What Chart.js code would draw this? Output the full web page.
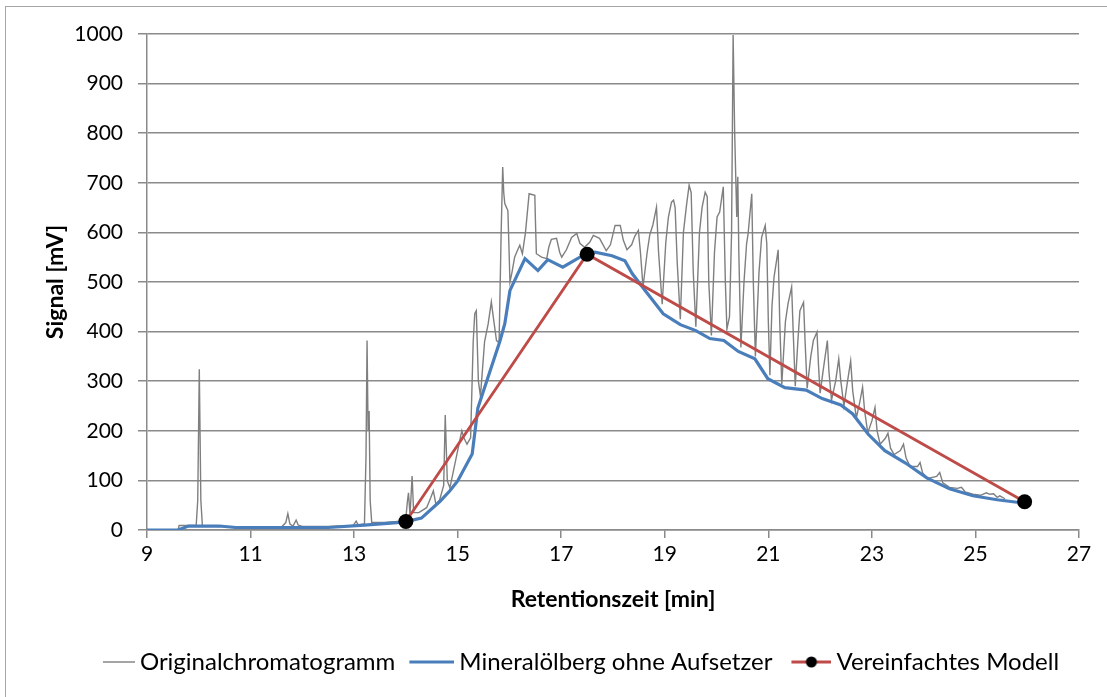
<!DOCTYPE html>
<html>
<head>
<meta charset="utf-8">
<title>Mineralölberg – Retentionszeit</title>
<script src="https://cdn.jsdelivr.net/npm/chart.js@4"></script>
<style>
  html, body { margin: 0; padding: 0; background: #ffffff; }
  #wrap { position: relative; width: 1107px; height: 697px; overflow: hidden; }
  #frame { position: absolute; left: 5px; top: 6px; width: 1200px; height: 800px; border: 1px solid #a6a6a6; }
  canvas { position: absolute; left: 0; top: 0; }
</style>
</head>
<body>
<div id="wrap">
  <div id="frame"></div>
  <canvas id="chart" width="1107" height="697"></canvas>
</div>
<script>
// Original chromatogram: retention time [min] and detector signal [mV]
const rawTime = [
  9.0, 9.6, 9.62, 9.95, 9.98, 10.01, 10.04, 10.07, 10.5, 11.0, 11.6, 11.68, 11.72, 11.76, 11.82, 11.88, 11.92, 12.0, 12.5,
  12.98, 13.04, 13.08, 13.2, 13.23, 13.25, 13.27, 13.29, 13.31, 13.34, 13.6, 13.9, 14.0, 14.03, 14.05, 14.08, 14.12, 14.15,
  14.25, 14.4, 14.48, 14.53, 14.58, 14.65, 14.73, 14.76, 14.8, 14.85, 14.98, 15.04, 15.08, 15.12, 15.18, 15.25, 15.3, 15.33,
  15.36, 15.4, 15.44, 15.52, 15.59, 15.65, 15.7, 15.75, 15.8, 15.84, 15.87, 15.89, 15.91, 15.94, 15.97, 16.01, 16.05, 16.1,
  16.16, 16.2, 16.25, 16.31, 16.38, 16.49, 16.5, 16.52, 16.62, 16.72, 16.76, 16.81, 16.91, 16.97, 17.01, 17.1, 17.2, 17.3,
  17.36, 17.45, 17.55, 17.62, 17.74, 17.87, 17.95, 18.04, 18.14, 18.2,
  18.27, 18.36, 18.42, 18.49, 18.53, 18.58,
  18.66, 18.71, 18.77, 18.84, 18.88, 18.95,
  19.02, 19.07, 19.13, 19.17, 19.2, 19.24, 19.3,
  19.36, 19.42, 19.47, 19.51, 19.55, 19.6,
  19.67, 19.72, 19.78, 19.82, 19.85, 19.9,
  19.96, 20.01, 20.06, 20.13, 20.17, 20.2,
  20.25, 20.29, 20.32, 20.35, 20.37, 20.39, 20.41, 20.43, 20.47,
  20.53, 20.58, 20.61, 20.68, 20.71, 20.75,
  20.82, 20.87, 20.94, 20.97, 21.0, 21.03,
  21.07, 21.11, 21.15, 21.19, 21.22, 21.26,
  21.33, 21.38, 21.45, 21.48, 21.52,
  21.57, 21.61, 21.68, 21.71, 21.75,
  21.82, 21.87, 21.94, 21.97, 22.0,
  22.07, 22.14, 22.17, 22.22,
  22.3, 22.36, 22.4, 22.46,
  22.53, 22.59, 22.63, 22.7,
  22.77, 22.82, 22.86, 22.92,
  23.0, 23.06, 23.1, 23.16,
  23.26, 23.31, 23.36, 23.43,
  23.55, 23.61, 23.66, 23.74,
  23.88, 23.93, 23.98, 24.08,
  24.25, 24.31, 24.37, 24.5,
  24.65, 24.73, 24.8, 24.95, 25.1, 25.21, 25.28, 25.35, 25.42, 25.47, 25.57
];
const rawSignal = [
  0, 0, 9, 9, 60, 324, 60, 8, 7, 6, 6, 15, 33, 12, 8, 20, 10, 7, 7,
  9, 18, 10, 12, 150, 382, 200, 240, 60, 15, 15, 18, 25, 58, 75, 30, 109, 35,
  35, 45, 65, 79, 52, 60, 90, 232, 99, 85, 150, 180, 200, 186, 173, 186, 380, 436,
  442, 300, 270, 380, 416, 460, 420, 382, 378, 600, 732, 680, 658, 651, 644, 500, 520, 550,
  565, 574, 557, 600, 678, 675, 631, 557, 550, 547, 570, 586, 588, 560, 550, 565, 590, 598,
  578, 570, 580, 594, 588, 563, 575, 614, 614, 584,
  565, 575, 592, 604, 560, 490,
  560, 595, 615, 651, 560, 455,
  580, 631, 661, 665, 650, 540, 425,
  600, 655, 695, 680, 520, 410,
  600, 650, 681, 672, 500, 392,
  560, 631, 641, 692, 500, 405,
  430, 600, 998, 800, 715, 631, 712, 560, 368,
  500, 577, 598, 678, 500, 350,
  520, 590, 614, 577, 420, 312,
  450, 510, 537, 565, 420, 294,
  420, 456, 490, 400, 290,
  380, 442, 459, 380, 286,
  350, 382, 399, 330, 276,
  330, 382, 320, 262,
  300, 345, 300, 250,
  300, 341, 280, 226,
  260, 288, 240, 196,
  220, 247, 200, 173,
  185, 195, 165, 152,
  160, 173, 145, 128,
  128, 136, 115, 104,
  108, 116, 95, 86,
  84, 86, 77, 72, 70, 75, 72, 73, 66, 69, 63
];

// Mineral oil hump without the superimposed peaks
const humpTime = [
  9.0, 9.6, 9.8, 10.4, 10.7, 12.5, 13.2, 13.83, 14.0, 14.3, 14.66, 14.85, 15.0, 15.28, 15.39, 15.82, 15.91, 16.01,
  16.3, 16.55, 16.74, 17.03, 17.46, 17.65, 17.98, 18.23, 18.37, 18.62, 18.97, 19.3, 19.6, 19.87, 20.14, 20.42,
  20.74, 20.99, 21.32, 21.73, 22.04, 22.4, 22.63, 22.93, 23.25, 23.65, 24.06, 24.5, 24.95, 25.42, 25.8, 25.92
];
const humpSignal = [
  0, 0, 8, 8, 5, 5, 10, 15, 17, 24, 58, 79, 99, 153, 246, 382, 416, 483,
  547, 523, 545, 530, 556, 560, 553, 543, 517, 483, 436, 414, 402, 386, 382, 360,
  345, 305, 287, 282, 265, 252, 234, 193, 160, 135, 105, 83, 69, 61, 56, 57
];

// Simplified model: start, apex and end of the hump
const modelTime = [14.0, 17.5, 25.95];
const modelSignal = [17, 556, 57];

// Axis ticks
const timeTicks = [9, 11, 13, 15, 17, 19, 21, 23, 25, 27];
const signalTicks = [0, 100, 200, 300, 400, 500, 600, 700, 800, 900, 1000];

const seriesNames = ['Originalchromatogramm', 'Mineralölberg ohne Aufsetzer', 'Vereinfachtes Modell'];

const toPoints = (xs, ys) => xs.map((x, i) => ({ x: x, y: ys[i] }));

const GRID = '#8a8a8a';
const FONT = 'Lato, "Open Sans", sans-serif';
const LEGEND_SIZE = 24;

// Legend symbols (line samples, the model one with a marker)
function legendSymbol(color, width, lineLength, withDot) {
  const w = 60;
  const c = document.createElement('canvas');
  c.width = w; c.height = 16;
  const g = c.getContext('2d');
  g.strokeStyle = color;
  g.lineWidth = width;
  g.beginPath();
  g.moveTo(w - lineLength, 8);
  g.lineTo(w, 8);
  g.stroke();
  if (withDot) {
    g.fillStyle = '#000000';
    g.beginPath();
    g.arc(w - lineLength / 2, 8, 5.5, 0, Math.PI * 2);
    g.fill();
  }
  return c;
}
const symbols = [
  legendSymbol('#7f7f7f', 1.4, 32, false),
  legendSymbol('#4a7ebb', 3.2, 45, false),
  legendSymbol('#be4b48', 3, 40, true)
];

Chart.defaults.font.family = FONT;
Chart.defaults.color = '#000000';

new Chart(document.getElementById('chart'), {
  type: 'scatter',
  data: {
    datasets: [
      {
        label: seriesNames[0],
        data: toPoints(rawTime, rawSignal),
        showLine: true,
        borderColor: '#7f7f7f',
        borderWidth: 1.4,
        pointRadius: 0,
        tension: 0,
        order: 2
      },
      {
        label: seriesNames[1],
        data: toPoints(humpTime, humpSignal),
        showLine: true,
        borderColor: '#4a7ebb',
        borderWidth: 3.2,
        pointRadius: 0,
        tension: 0,
        order: 1
      },
      {
        label: seriesNames[2],
        data: toPoints(modelTime, modelSignal),
        showLine: true,
        borderColor: '#be4b48',
        borderWidth: 2.8,
        pointRadius: 7.5,
        pointBackgroundColor: '#000000',
        pointBorderWidth: 0,
        tension: 0,
        order: 0
      }
    ]
  },
  options: {
    responsive: false,
    animation: false,
    layout: { padding: { left: 44, right: 10, top: 34, bottom: 13 } },
    plugins: {
      tooltip: { enabled: false },
      legend: {
        position: 'bottom',
        labels: {
          usePointStyle: true,
          pointStyleWidth: 46,
          padding: 6,
          font: { size: LEGEND_SIZE, family: FONT },
          color: '#000000',
          generateLabels: (chart) => chart.data.datasets.map((ds, i) => ({
            text: ds.label,
            pointStyle: symbols[i],
            datasetIndex: i,
            hidden: !chart.isDatasetVisible(i),
            lineWidth: 0,
            strokeStyle: 'transparent',
            fillStyle: 'transparent'
          }))
        }
      }
    },
    scales: {
      x: {
        type: 'linear',
        min: timeTicks[0],
        max: timeTicks[timeTicks.length - 1],
        afterBuildTicks: (s) => { s.ticks = timeTicks.map(v => ({ value: v })); },
        afterFit: (s) => { s.height = 114; },
        grid: { drawOnChartArea: false, drawTicks: true, tickLength: 8, color: GRID, lineWidth: 1.5 },
        border: { display: true, color: GRID, width: 1.5 },
        ticks: { padding: 4, font: { size: 21 }, color: '#000000', maxRotation: 0, callback: (v) => String(v) },
        title: {
          display: true,
          text: 'Retentionszeit [min]',
          font: { size: 23, weight: 'bold' },
          color: '#000000',
          padding: { top: 0, bottom: 31 }
        }
      },
      y: {
        min: signalTicks[0],
        max: signalTicks[signalTicks.length - 1],
        afterBuildTicks: (s) => { s.ticks = signalTicks.map(v => ({ value: v })); },
        afterFit: (s) => { s.width = 103; },
        grid: { color: GRID, lineWidth: 1.5, drawTicks: true, tickLength: 9 },
        border: { display: true, color: GRID, width: 1.5 },
        ticks: { padding: 15, font: { size: 21 }, color: '#000000', callback: (v) => String(v) },
        title: {
          display: true,
          text: 'Signal [mV]',
          font: { size: 23, weight: 'bold' },
          color: '#000000',
          padding: { top: -2, bottom: 0 }
        }
      },
      yPad: {
        position: 'right',
        display: true,
        grid: { display: false },
        border: { display: false },
        ticks: { display: false },
        afterFit: (s) => { s.width = 18; }
      }
    }
  }
});
</script>
</body>
</html>
